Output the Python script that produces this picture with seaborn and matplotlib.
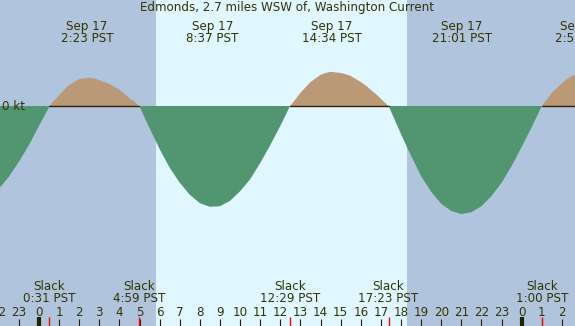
"""
tidal current chart for Edmonds, 2.7 miles WSW of (Sep 17)
"""
import numpy as np
import matplotlib
matplotlib.use("Agg")
import matplotlib.pyplot as plt
import seaborn as sns
import pandas as pd

title = "Edmonds, 2.7 miles WSW of, Washington Current"

# current speed (kt), hours since midnight Sep 17 PST
hours = [-2.0, -1.5, -1.0, -0.5, 0.0, 0.5, 0.517, 0.75, 1.0, 1.25, 1.5, 1.75, 2.0, 2.25,
         2.5, 2.75, 3.0, 3.25, 3.5, 3.75, 4.0, 4.25, 4.5, 4.75, 4.983,
         5.5, 6.0, 6.5, 7.0, 7.5, 8.0, 8.5, 9.0, 9.5, 10.0, 10.5, 11.0, 11.5, 12.0,
         12.483, 12.75, 13.0, 13.25, 13.5, 13.75, 14.0, 14.25, 14.5, 14.75, 15.0, 15.25,
         15.5, 15.75, 16.0, 16.25, 16.5, 16.75, 17.0, 17.25, 17.383,
         18.0, 18.5, 19.0, 19.5, 20.0, 20.5, 21.0, 21.5, 22.0, 22.5, 23.0, 23.5, 24.0,
         24.5, 25.0, 25.25, 25.5, 25.75, 26.0, 26.25, 26.5, 26.75, 27.0]
speed = [-1.38, -1.18, -0.93, -0.65, -0.33, -0.02, 0.0, 0.09, 0.18, 0.27, 0.35, 0.40,
         0.45, 0.46, 0.47, 0.46, 0.43, 0.40, 0.37, 0.32, 0.27, 0.20, 0.13, 0.07, 0.0,
         -0.37, -0.72, -1.03, -1.28, -1.48, -1.62, -1.68, -1.67, -1.58, -1.42, -1.22,
         -0.95, -0.65, -0.33,
         0.0, 0.11, 0.22, 0.31, 0.40, 0.46, 0.52, 0.55, 0.57, 0.56, 0.55, 0.53,
         0.50, 0.45, 0.40, 0.34, 0.27, 0.20, 0.12, 0.04, 0.0,
         -0.47, -0.83, -1.17, -1.43, -1.63, -1.75, -1.80, -1.77, -1.67, -1.50, -1.28,
         -1.00, -0.68, -0.35, 0.0, 0.11, 0.22, 0.30, 0.38, 0.45, 0.50, 0.53, 0.53]

# max current events (labelled at the top)
max_hours = [2.383, 8.617, 14.567, 21.017, 26.95]
max_labels = ["2:23 PST", "8:37 PST", "14:34 PST", "21:01 PST", "2:57 PST"]
max_dates = ["Sep 17", "Sep 17", "Sep 17", "Sep 17", "Sep 18"]

# slack water events (labelled at the bottom)
slack_hours = [0.517, 4.983, 12.483, 17.383, 25.0]
slack_labels = ["0:31 PST", "4:59 PST", "12:29 PST", "17:23 PST", "1:00 PST"]

sunrise = 5.82
sunset = 18.30

night_col = "#b0c4de"
day_col = "#e0f7ff"
flood_col = "#bb9977"
ebb_col = "#519571"
text_col = "#333300"
fs = 8.6

df = pd.DataFrame({"hour": hours, "kt": speed})

sns.set_style("white")
plt.rcParams['font.family'] = ['DejaVu Sans']

fig = plt.figure(figsize=(5.75, 3.26), dpi=100)
ax = fig.add_axes([0, 0, 1, 1])

x0, x1 = -1.94, 26.65
ax.set_xlim(x0, x1)
# zero at 106 px from top of 326 px, 60 px per knot
ax.set_ylim(-220 / 60, 106 / 60)

# day / night shading
ax.axvspan(x0, x1, color=night_col, lw=0, zorder=0)
ax.axvspan(sunrise, sunset, color=day_col, lw=0, zorder=0)

sns.lineplot(data=df, x="hour", y="kt", ax=ax, linewidth=0, zorder=1)
t = df["hour"].values
v = df["kt"].values
ax.fill_between(t, 0, v, where=v >= 0, interpolate=True, color=flood_col, lw=0, zorder=2)
ax.fill_between(t, 0, v, where=v <= 0, interpolate=True, color=ebb_col, lw=0, zorder=2)

# zero line only visible above the flood fill
zero = np.ma.masked_where(v < 0, np.zeros_like(v))
ax.plot(t, zero, color="#332200", lw=1.0, zorder=3)
ax.text(x0 + 0.12, 0, "0 kt", ha="left", va="center", fontsize=fs, color=text_col, zorder=5)

# title and max labels
ax.text(0.5, 0.978, title, transform=ax.transAxes, ha="center", va="center",
        fontsize=fs, color=text_col)
tr = ax.get_xaxis_transform()
for h, d, lab in zip(max_hours, max_dates, max_labels):
    ax.annotate(d, (h, 1), xycoords=tr, xytext=(0, -19),
                textcoords="offset points", ha="center", va="center", fontsize=fs,
                color=text_col)
    ax.annotate(lab, (h, 1), xycoords=tr, xytext=(0, -28),
                textcoords="offset points", ha="center", va="center", fontsize=fs,
                color=text_col)

# slack labels at the bottom
for h, lab in zip(slack_hours, slack_labels):
    ax.annotate("Slack", (h, 0), xycoords=tr, xytext=(0, 28.5),
                textcoords="offset points", ha="center", va="center", fontsize=fs,
                color=text_col)
    ax.annotate(lab, (h, 0), xycoords=tr, xytext=(0, 19.5),
                textcoords="offset points", ha="center", va="center", fontsize=fs,
                color=text_col)

# hour labels and ticks
for h in range(-2, 28):
    ax.annotate(str(h % 24), (h, 0), xycoords=tr, xytext=(0, 10),
                textcoords="offset points", ha="center", va="center", fontsize=fs,
                color=text_col)
    if h % 24 == 0:
        ax.plot([h, h], [0, 9 / 326], transform=tr, color="#222200", lw=3, zorder=4,
                solid_capstyle="butt")
    else:
        ax.plot([h, h], [0, 7 / 326], transform=tr, color="#222200", lw=0.8, zorder=4,
                solid_capstyle="butt")
for h in slack_hours:
    ax.plot([h, h], [0, 9 / 326], transform=tr, color="red", lw=1, zorder=4,
            solid_capstyle="butt")

ax.set_axis_off()
fig.savefig("out.png", dpi=100)
